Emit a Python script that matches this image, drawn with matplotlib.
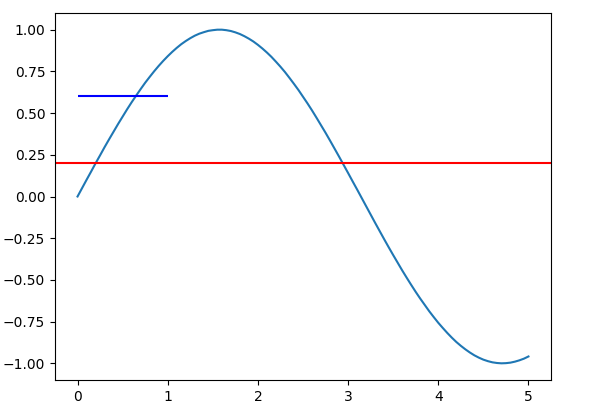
import matplotlib
matplotlib.use("Agg")
import matplotlib.pyplot as plt

x_vals = [i / 20 for i in range(101)]
y_vals = [0.000, 0.050, 0.100, 0.149, 0.199, 0.247, 0.296, 0.343, 0.389, 0.435,
          0.479, 0.523, 0.565, 0.605, 0.644, 0.682, 0.717, 0.751, 0.783, 0.813,
          0.841, 0.867, 0.891, 0.913, 0.932, 0.949, 0.964, 0.976, 0.985, 0.993,
          0.997, 1.000, 1.000, 0.997, 0.992, 0.984, 0.974, 0.961, 0.946, 0.929,
          0.909, 0.887, 0.863, 0.837, 0.808, 0.778, 0.746, 0.711, 0.675, 0.638,
          0.598, 0.558, 0.516, 0.472, 0.427, 0.382, 0.335, 0.287, 0.239, 0.190,
          0.141, 0.091, 0.042, -0.008, -0.058, -0.108, -0.158, -0.207, -0.256, -0.304,
          -0.351, -0.397, -0.443, -0.487, -0.530, -0.572, -0.612, -0.650, -0.688, -0.723,
          -0.757, -0.788, -0.818, -0.846, -0.872, -0.895, -0.916, -0.935, -0.952, -0.966,
          -0.978, -0.987, -0.994, -0.998, -1.000, -0.999, -0.996, -0.990, -0.982, -0.972,
          -0.959]
red_level = 0.2
blue_level = 0.6
blue_start, blue_end = 0, 1

W, H = 589, 412
fig = plt.figure(figsize=(W / 100, H / 100), dpi=100)
ax = fig.add_axes([55 / W, (H - 380) / H, (551 - 55) / W, (380 - 13) / H])
ax.plot(x_vals, y_vals)
ax.axhline(red_level, color='red')
ax.hlines(blue_level, blue_start, blue_end, color='blue')
fig.savefig("out.png", dpi=100)
